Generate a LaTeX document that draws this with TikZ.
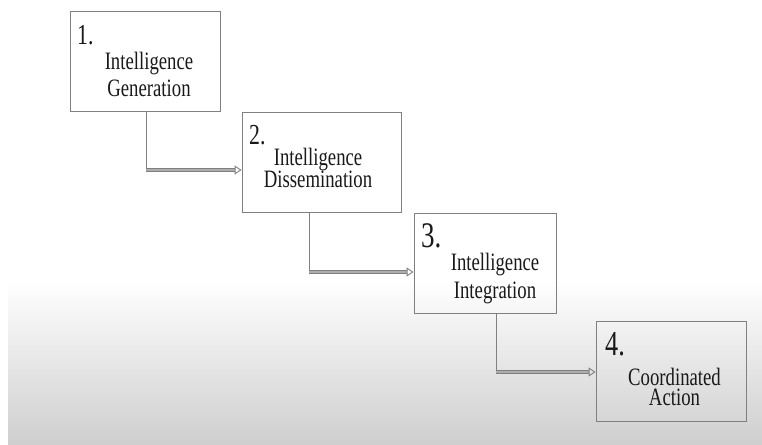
\documentclass[tikz,border=0pt]{standalone}
\usepackage{fontspec}
\usepackage{tikz}
\usetikzlibrary{positioning,arrows.meta,calc}
\newfontfamily\stagefont[FakeStretch=0.75]{Liberation Serif}

\begin{document}
\begin{tikzpicture}[x=1pt, y=-1pt,
  stage/.style={draw=black!50, line width=0.8pt, minimum width=#1, minimum height=100pt, inner sep=0pt},
  num/.style={anchor=base west, inner sep=0pt, text=black!90, font=\stagefont\fontsize{#1}{#1}\selectfont},
  txt/.style={anchor=base, align=center, inner sep=0pt, text=black!90, font=\stagefont\fontsize{25}{#1}\selectfont},
  drop/.style={draw=black!50, line width=0.6pt},
  feed/.style={-{Triangle[open, length=7pt, width=9pt]}, draw=black!50, line width=0.9pt, double=black!32, double distance=2pt}]
  \useasboundingbox (0,0) rectangle (762,444);
  \shade[top color=white, bottom color=black!19] (8,280) rectangle (762,444);
  % stages
  \node[stage=150pt] (gen) at (145,61.5) {};
  \node[stage=159pt] (dis) at (321.5,162.5) {};
  \node[stage=142pt] (int) at (485,263) {};
  \node[stage=150pt] (act) at (671,371) {};
  \node[num=29] (n1) at (77,45) {1.};
  \node[num=29] (n2) at (249,144) {2.};
  \node[num=36] (n3) at (421,247) {3.};
  \node[num=35] (n4) at (605,355) {4.};
  \node[txt=27] (t1) at (149,96) {Intelligence\\Generation};
  \node[txt=22] (t2) at (318,187) {Intelligence\\Dissemination};
  \node[txt=28] (t3) at (495,298) {Intelligence\\Integration};
  \node[txt=20] (t4) at (674.5,405) {Coordinated\\Action};
  % connectors
  \coordinate (k1) at (146,170);
  \coordinate (k2) at (309,272);
  \coordinate (k3) at (496,372);
  \draw[drop] (gen.south -| k1) -- (k1);
  \draw[feed] (k1) -- (k1 -| dis.west);
  \draw[drop] (dis.south -| k2) -- (k2);
  \draw[feed] (k2) -- (k2 -| int.west);
  \draw[drop] (int.south -| k3) -- (k3);
  \draw[feed] (k3) -- (k3 -| act.west);
\end{tikzpicture}
\end{document}
